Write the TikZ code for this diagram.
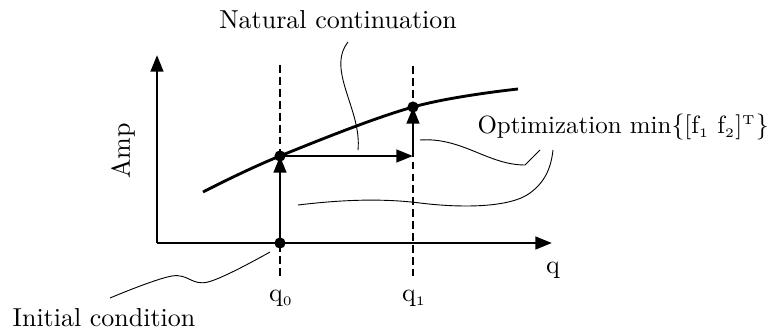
\documentclass[tikz,border=0pt]{standalone}
\usepackage{tikz}
\usetikzlibrary{arrows.meta}

\begin{document}
\begin{tikzpicture}[
  x=0.385pt, y=-0.385pt,
  axis/.style={line width=1.1pt, -{Triangle[length=6.4pt, width=4.8pt]}},
  stepline/.style={line width=1.1pt, -{Triangle[length=6.4pt, width=4.8pt]}},
  branch/.style={line width=1.1pt},
  guide/.style={line width=0.5pt, dash pattern=on 3pt off 1.6pt},
  leader/.style={line width=0.35pt},
  dot/.style={circle, fill=black, inner sep=0pt, minimum size=4.3pt},
  lab/.style={inner sep=0pt}
]
  \useasboundingbox (0,0) rectangle (774,329);

  % axes and points
  \coordinate (orig) at (157,243);
  \coordinate (ytip) at (157,55);
  \coordinate (xtip) at (552,243);
  \coordinate (cstart) at (203,192);
  \coordinate (cend) at (518,89);
  \coordinate (pred) at (413,156);
  \node[dot] (q0base) at (280,243) {};
  \node[dot] (sol0) at (280,156) {};
  \node[dot] (sol1) at (413,107) {};

  % dashed guides
  \draw[guide] (280,65) -- (280,276);
  \draw[guide] (413,66) -- (413,276);

  \draw[axis] (orig) -- (ytip);
  \draw[axis] (orig) -- (xtip);

  % solution branch
  \draw[branch] plot[smooth, tension=0.6] coordinates {(cstart) (sol0) (sol1) (cend)};

  % steps
  \draw[stepline] (q0base) -- (sol0.center);
  \draw[stepline] (sol0.center) -- (pred);
  \draw[stepline] (pred) -- (sol1.center);

  % labels
  \node[lab] (natlab) at (338,20) {Natural continuation};
  \node[lab, rotate=90] (amplab) at (123,151) {Amp};
  \node[lab] (qlab) at (553,270) {q};
  \node[lab] (q0lab) at (281,298) {q$_{\scriptscriptstyle 0}$};
  \node[lab] (q1lab) at (414,298) {q$_{\scriptscriptstyle 1}$};
  \node[lab] (initlab) at (104,318) {Initial condition};
  \node[lab, anchor=west, font=\fontsize{9.6}{12}\selectfont] (optlab) at (477,127)
    {Optimization min$\{$[f$_{\scriptscriptstyle 1}$ f$_{\scriptscriptstyle 2}$]$^{\scriptscriptstyle\mathrm{T}}\}$};

  % leader curves
  \coordinate (natA) at (348,42);
  \coordinate (natB) at (358,150);
  \draw[leader] (natA) .. controls (326,70) and (362,110) .. (natB);
  \coordinate (iniA) at (110,298);
  \coordinate (iniB) at (270,252);
  \draw[leader] plot[smooth, tension=0.6] coordinates {(iniA) (172,276) (208,282) (iniB)};
  \coordinate (optA) at (420,140);
  \coordinate (optB) at (540,150);
  \draw[leader] (optA) .. controls (462,137) and (488,165) .. (525,165) -- (optB);
  \coordinate (optC) at (298,205);
  \coordinate (optD) at (553,150);
  \draw[leader] (optC) .. controls (340,200) and (380,198) .. (420,203)
    .. controls (460,208) and (510,208) .. (530,193)
    .. controls (545,182) and (551,168) .. (optD);
\end{tikzpicture}
\end{document}
